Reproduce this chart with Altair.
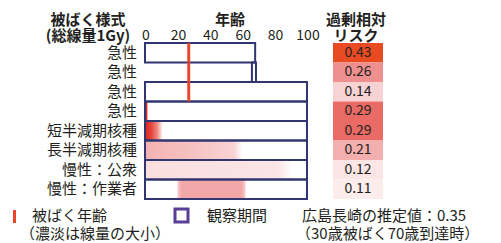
import altair as alt
import pandas as pd

# ---- data ----
row_labels = ["急性", "急性", "急性", "急性", "短半減期核種", "長半減期核種", "慢性：公衆", "慢性：作業者"]
obs_start = [0, 66, 0, 0, 0, 0, 0, 0]
obs_end = [68, 68.5, 100, 100, 100, 100, 100, 100]
risk = [0.43, 0.26, 0.14, 0.29, 0.29, 0.21, 0.12, 0.11]

exposure_rows = [0, 1, 2]
exposure_age = [27, 27, 27]

dose_rows = [3, 4, 5, 6, 7]
dose_start = [0, 0, 0, 0, 20]
dose_end = [1.5, 11, 60, 91, 62]

age_ticks = [0, 20, 40, 60, 80, 100]

FONT = "Noto Sans CJK JP"
TXT = "#231f20"
NAVY = "#2f3670"

rows_df = pd.DataFrame({
    "row": list(range(len(row_labels))),
    "label": row_labels,
    "start": obs_start,
    "end": obs_end,
    "risk": risk,
})
exp_df = pd.DataFrame({"row": exposure_rows, "age": exposure_age})
dose_df = pd.DataFrame({"row": dose_rows, "start": dose_start, "end": dose_end})
tick_df = pd.DataFrame({"t": age_ticks})

xs = alt.Scale(domain=[0, 100], range=[137, 299], nice=False, zero=False)
ys = alt.Scale(domain=[0, 8], range=[35, 191], nice=False, zero=False)


def X(f):
    return alt.X(f, type="quantitative", scale=xs, axis=None)


def Y(f):
    return alt.Y(f, type="quantitative", scale=ys, axis=None)


def grad(stops):
    return alt.Gradient(
        gradient="linear", x1=0, x2=1, y1=0, y2=0,
        stops=[alt.GradientStop(color=c, offset=o) for o, c in stops],
    )


dose_base = alt.Chart(dose_df).transform_calculate(r2="datum.row + 1")

grad_styles = {
    3: grad([(0, "#dc2a22"), (1, "#dc2a22")]),
    4: grad([(0, "#d9241d"), (0.35, "#e4453b"), (0.7, "#f08e86"), (1, "#ffffff")]),
    5: grad([(0, "#f4b2b2"), (0.5, "#f6c2c2"), (0.92, "#f9d4d4"), (1, "#ffffff")]),
    6: grad([(0, "#fbdfdf"), (0.9, "#fbe5e5"), (1, "#ffffff")]),
    7: grad([(0, "#f8d0d0"), (0.06, "#f2a8a8"), (0.94, "#f2a8a8"), (1, "#f8d0d0")]),
}

dose_layers = []
for r, g in grad_styles.items():
    dose_layers.append(
        dose_base.transform_filter(f"datum.row == {r}")
        .mark_rect(fill=g)
        .encode(x=X("start"), x2=alt.X2("end"), y=Y("row"), y2=alt.Y2("r2"))
    )

boxes = alt.Chart(rows_df).transform_calculate(r2="datum.row + 1").mark_rect(
    fillOpacity=0, stroke=NAVY, strokeWidth=2
).encode(x=X("start"), x2=alt.X2("end"), y=Y("row"), y2=alt.Y2("r2"))

exp_marks = alt.Chart(exp_df).transform_calculate(
    r2="datum.row + 1", a1="datum.age - 0.9", a2="datum.age + 0.9"
).mark_rect(fill="#e8452a").encode(
    x=X("a1"), x2=alt.X2("a2"), y=Y("row"), y2=alt.Y2("r2")
)

labels = alt.Chart(rows_df).transform_calculate(ym="datum.row + 0.5").mark_text(
    align="right", baseline="middle", font=FONT, fontSize=15, color=TXT
).encode(x=alt.value(129), y=Y("ym"), text="label:N")

risk_colors = alt.Scale(
    domain=[0.11, 0.12, 0.14, 0.21, 0.26, 0.29, 0.43],
    range=["#fcecec", "#fbe5e5", "#f8d3d3", "#f3aeae", "#ef9090", "#ea6b65", "#e84b22"],
)
risk_cells = alt.Chart(rows_df).transform_calculate(r2="datum.row + 1").mark_rect().encode(
    x=alt.value(325), x2=alt.value(375), y=Y("row"), y2=alt.Y2("r2"),
    fill=alt.Fill("risk:Q", scale=risk_colors, legend=None),
)
risk_text = alt.Chart(rows_df).transform_calculate(ym="datum.row + 0.5").mark_text(
    align="center", baseline="middle", font=FONT, fontSize=14, color=TXT
).encode(x=alt.value(350), y=Y("ym"), text=alt.Text("risk:Q", format=".2f"))

ticks = alt.Chart(tick_df).mark_text(
    align="center", baseline="middle", font=FONT, fontSize=14, color=TXT, dx=1
).encode(x=X("t"), y=alt.value(28), text=alt.Text("t:Q"))


def txt(s, x, y, align="center", bold=False, size=15):
    return alt.Chart(pd.DataFrame({"s": [s]})).mark_text(
        align=align, baseline="middle", font=FONT, fontSize=size, color=TXT,
        fontWeight="bold" if bold else "normal",
    ).encode(x=alt.value(x), y=alt.value(y), text="s:N")


headers = [
    txt("被ばく様式", 80, 12, bold=True),
    txt("(総線量1Gy)", 80, 28, bold=True),
    txt("年齢", 222, 12, bold=True),
    txt("過剰相対", 348, 12, bold=True),
    txt("リスク", 348, 28, bold=True),
]

legend_tick = alt.Chart(pd.DataFrame({"a": [0]})).mark_rect(fill="#e8452a").encode(
    x=alt.value(5), x2=alt.value(8), y=alt.value(202), y2=alt.value(215)
)
legend_box = alt.Chart(pd.DataFrame({"a": [0]})).mark_rect(
    fillOpacity=0, stroke="#5a3d94", strokeWidth=3
).encode(x=alt.value(167), x2=alt.value(180), y=alt.value(201), y2=alt.value(214))

legend_text = [
    txt("被ばく年齢", 24, 208, align="left"),
    txt("（濃淡は線量の大小）", 12, 226, align="left"),
    txt("観察期間", 199, 208, align="left"),
    txt("広島長崎の推定値：0.35", 294, 208, align="left"),
    txt("（30歳被ばく70歳到達時）", 288, 226, align="left"),
]

chart = alt.layer(
    *dose_layers, boxes, exp_marks, labels, risk_cells, risk_text, ticks,
    *headers, legend_tick, legend_box, *legend_text
).properties(
    width=485, height=235, autosize="none", padding=0
).configure_view(stroke=None)

chart.save("out.html", embed_options={"renderer": "svg", "actions": False})
